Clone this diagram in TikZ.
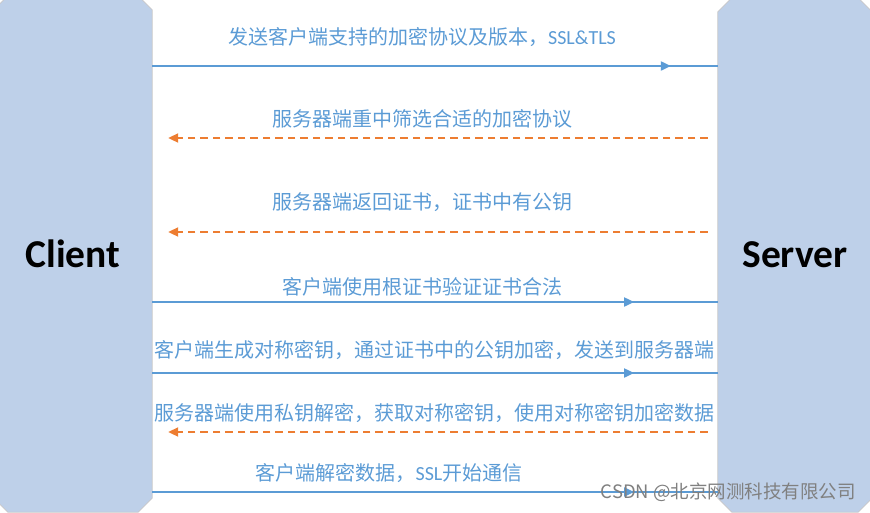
\documentclass[tikz,border=0pt]{standalone}
\usepackage{fontspec}
\setmainfont{Carlito}
\newfontfamily\cjk{Noto Sans CJK SC}
\usetikzlibrary{arrows.meta,decorations.markings,backgrounds}
\definecolor{hostfill}{RGB}{190,208,233}
\definecolor{hostedge}{RGB}{200,200,200}
\definecolor{msgblue}{RGB}{91,155,213}
\definecolor{replyorange}{RGB}{237,125,49}
\tikzset{arrowat/.style={postaction={decorate,decoration={markings,
  mark=at position #1 with {\arrow{Triangle[length=10pt,width=9pt]}}}}}}
% bevelled outline round a host node
\newcommand{\hostoutline}[1]{%
  \filldraw[fill=hostfill, draw=hostedge, line width=0.8pt]
    ([xshift=14pt]#1.north west) -- ([xshift=-14pt]#1.north east) -- ([yshift=-14pt]#1.north east)
    -- ([yshift=14pt]#1.south east) -- ([xshift=-14pt]#1.south east) -- ([xshift=14pt]#1.south west)
    -- ([yshift=14pt]#1.south west) -- ([yshift=-14pt]#1.north west) -- cycle;}

\begin{document}
\begin{tikzpicture}[x=1pt,y=-1pt]
		\tikzstyle{host} = [rectangle, inner sep=0pt, font=\fontsize{39.5}{40}\selectfont\bfseries]
		\tikzstyle{msg} = [color=msgblue, line width=2pt]
		\tikzstyle{reply} = [color=replyorange, line width=2pt, dash pattern=on 7.5pt off 5pt, -{Triangle[length=10pt,width=9pt]}, shorten <=10pt, shorten >=16pt]
		\tikzstyle{msgtext} = [text=msgblue, inner sep=0pt, font=\cjk\fontsize{20}{22}\selectfont]
		
		\useasboundingbox (0,0) rectangle (870,512);
		
		\node (client) [host, minimum width=158pt, minimum height=516pt] at (73,254) {Client};
		\node (server) [host, minimum width=154pt, minimum height=514pt] at (795,255) {Server};
		\begin{scope}[on background layer]
			\hostoutline{client}
			\hostoutline{server}
		\end{scope}
		
		% rows of the handshake
		\coordinate (r1) at (0,66);
		\coordinate (r2) at (0,138);
		\coordinate (r3) at (0,232);
		\coordinate (r4) at (0,302);
		\coordinate (r5) at (0,373);
		\coordinate (r6) at (0,432);
		\coordinate (r7) at (0,492);
		
		\node (l1) [msgtext] at (422,37) {发送客户端支持的加密协议及版本，{\rmfamily SSL\&TLS}};
		\node (l2) [msgtext] at (422,119) {服务器端重中筛选合适的加密协议};
		\node (l3) [msgtext] at (422,202) {服务器端返回证书，证书中有公钥};
		\node (l4) [msgtext] at (422,287) {客户端使用根证书验证证书合法};
		\node (l5) [msgtext] at (434,350) {客户端生成对称密钥，通过证书中的公钥加密，发送到服务器端};
		\node (l6) [msgtext] at (434,413) {服务器端使用私钥解密，获取对称密钥，使用对称密钥加密数据};
		\node (l7) [msgtext] at (389,473) {客户端解密数据，{\rmfamily SSL}开始通信};
		
		\draw [msg, arrowat=0.917] (client.east |- r1) -- (server.west |- r1);
		\draw [reply] (server.west |- r2) -- (client.east |- r2);
		\draw [reply] (server.west |- r3) -- (client.east |- r3);
		\draw [msg, arrowat=0.852] (client.east |- r4) -- (server.west |- r4);
		\draw [msg, arrowat=0.852] (client.east |- r5) -- (server.west |- r5);
		\draw [reply] (server.west |- r6) -- (client.east |- r6);
		\draw [msg, arrowat=0.852] (client.east |- r7) -- (server.west |- r7);
		
		\node (mark) [anchor=east, text=gray, inner sep=0pt, font=\cjk\fontsize{18.5}{20}\selectfont] at (856,492) {CSDN @北京网测科技有限公司};
	\end{tikzpicture}
\end{document}
